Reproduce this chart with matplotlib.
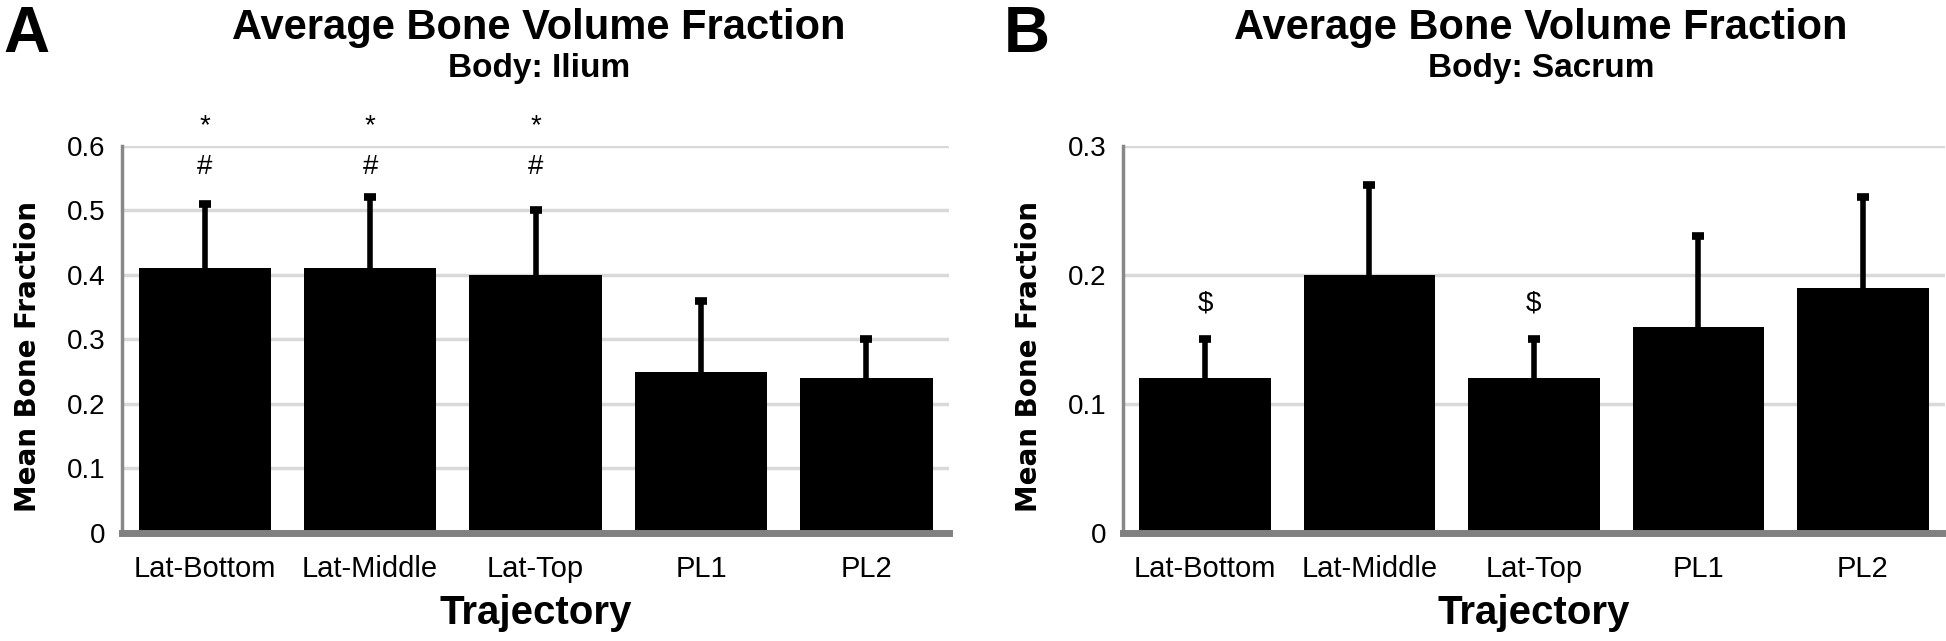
import matplotlib.pyplot as plt
import numpy as np

# dane
trajectories = ["Lat-Bottom", "Lat-Middle", "Lat-Top", "PL1", "PL2"]

ilium_mean = [0.41, 0.41, 0.40, 0.25, 0.24]
ilium_err = [0.10, 0.11, 0.10, 0.11, 0.06]
ilium_marks = ["*", "*", "*", "", ""]
ilium_marks2 = ["#", "#", "#", "", ""]

sacrum_mean = [0.12, 0.20, 0.12, 0.16, 0.19]
sacrum_err = [0.03, 0.07, 0.03, 0.07, 0.07]
sacrum_marks = ["$", "", "$", "", ""]

ilium_ticks = [0, 0.1, 0.2, 0.3, 0.4, 0.5, 0.6]
ilium_ticklabels = ["0", "0.1", "0.2", "0.3", "0.4", "0.5", "0.6"]
sacrum_ticks = [0, 0.1, 0.2, 0.3]
sacrum_ticklabels = ["0", "0.1", "0.2", "0.3"]

NARROW = ["Liberation Sans Narrow", "Liberation Sans", "DejaVu Sans"]

fig = plt.figure(figsize=(19.46, 6.41), dpi=100)


def panel(rect, means, errs, ticks, ticklabels, ymax):
    ax = fig.add_axes(rect)
    x = np.arange(len(trajectories))
    ax.bar(x, means, width=0.8, color="black", zorder=3)
    eb = ax.errorbar(x, means, yerr=[np.zeros(len(errs)), errs], fmt="none",
                     ecolor="black", elinewidth=4, capsize=4, capthick=5.5, zorder=4)
    # tylko gorna kreska bledu - dolne "czapki" chowamy
    for cl in eb[1]:
        if np.allclose(cl.get_ydata(), means):
            cl.set_visible(False)
    ax.set_xlim(-0.5, len(trajectories) - 0.5)
    ax.set_ylim(0, ymax)
    ax.set_yticks(ticks)
    ax.set_yticklabels(ticklabels, family=NARROW, fontsize=20)
    ax.set_xticks(x)
    ax.set_xticklabels(trajectories, family=NARROW, fontsize=21)
    ax.tick_params(length=0, pad=12)
    ax.tick_params(axis="x", pad=16)
    ax.yaxis.grid(True, color="#d9d9d9", linewidth=2.5, zorder=0)
    ax.set_axisbelow(True)
    for s in ["top", "right"]:
        ax.spines[s].set_visible(False)
    ax.spines["left"].set_color("#888888")
    ax.spines["left"].set_linewidth(2.5)
    ax.spines["bottom"].set_color("#808080")
    ax.spines["bottom"].set_linewidth(5)
    ax.spines["bottom"].set_zorder(5)
    ax.set_xlabel("Trajectory", family=NARROW, fontsize=29, fontweight="bold", va="center")
    ax.xaxis.set_label_coords(0.5, -0.207)
    ax.set_ylabel("Mean Bone Fraction", family="DejaVu Sans", fontsize=20,
                  fontweight="bold", va="center")
    ax.yaxis.set_label_coords(-0.114, 0.455)
    return ax


ax1 = panel([0.0627, 0.1685, 0.425, 0.604], ilium_mean, ilium_err,
            ilium_ticks, ilium_ticklabels, 0.6)
for i, (m1, m2) in enumerate(zip(ilium_marks, ilium_marks2)):
    if m1:
        ax1.text(i, 0.63, m1, ha="center", va="center", fontsize=20,
                 family=NARROW, clip_on=False)
        ax1.text(i, 0.567, m2, ha="center", va="center", fontsize=20,
                 family=NARROW, clip_on=False)

ax2 = panel([0.577, 0.1685, 0.4225, 0.604], sacrum_mean, sacrum_err,
            sacrum_ticks, sacrum_ticklabels, 0.3)
for i, m in enumerate(sacrum_marks):
    if m:
        ax2.text(i, 0.178, m, ha="center", va="center", fontsize=20,
                 family=NARROW, clip_on=False)

# tytuly i litery paneli
for cx, sub in [(0.277, "Body: Ilium"), (0.792, "Body: Sacrum")]:
    fig.text(cx, 0.957, "Average Bone Volume Fraction", ha="center", va="center",
             fontsize=30, fontweight="bold", family=NARROW)
    fig.text(cx, 0.893, sub, ha="center", va="center",
             fontsize=24, fontweight="bold", family=NARROW)
fig.text(0.002, 0.946, "A", ha="left", va="center", fontsize=46,
         fontweight="bold", family=NARROW)
fig.text(0.516, 0.946, "B", ha="left", va="center", fontsize=46,
         fontweight="bold", family=NARROW)

fig.savefig("out.png", dpi=100)
